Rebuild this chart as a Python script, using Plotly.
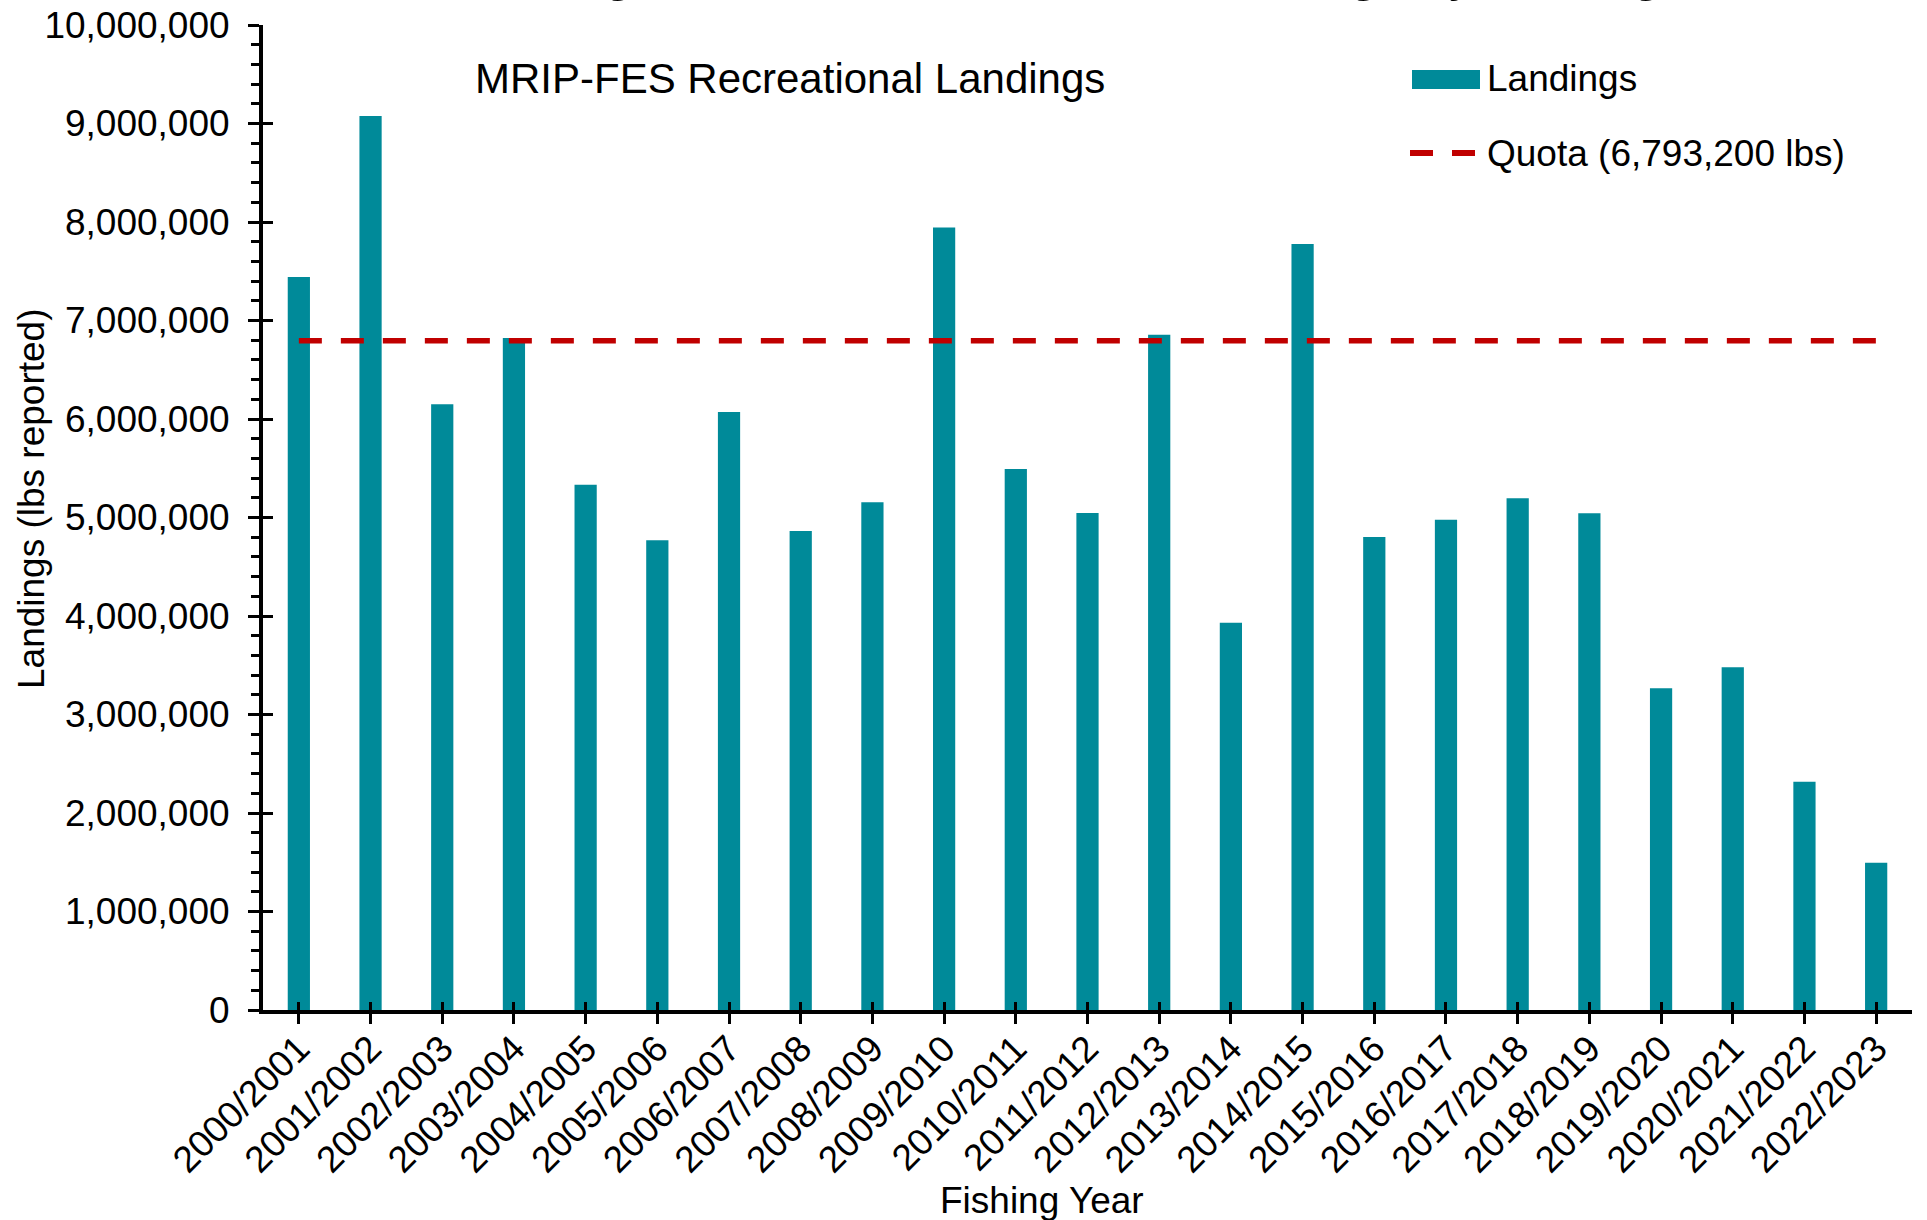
import plotly.graph_objects as go

# Fishing years and MRIP-FES recreational landings (lbs)
years = ["2000/2001", "2001/2002", "2002/2003", "2003/2004", "2004/2005", "2005/2006",
         "2006/2007", "2007/2008", "2008/2009", "2009/2010", "2010/2011", "2011/2012",
         "2012/2013", "2013/2014", "2014/2015", "2015/2016", "2016/2017", "2017/2018",
         "2018/2019", "2019/2020", "2020/2021", "2021/2022", "2022/2023"]
landings = [7442000, 9075000, 6151000, 6822000, 5333000, 4768000,
            6070000, 4863000, 5154000, 7943000, 5493000, 5046000,
            6855000, 3931000, 7777000, 4802000, 4978000, 5195000,
            5043000, 3267000, 3480000, 2318000, 1494000]
quota = 6793200

BAR_COLOR = "#008A99"
QUOTA_COLOR = "#C00000"
FONT = "Arial, Liberation Sans, sans-serif"

W, H = 1927, 1220
L, R, T, B = 263, 15, 25, 210


def px_x(p):
    return (p - L) / (W - L - R)


def px_y(p):
    return (H - B - p) / (H - T - B)


fig = go.Figure()

fig.add_trace(go.Bar(
    x=years, y=landings, name="Landings",
    marker=dict(color=BAR_COLOR, line=dict(width=0)),
    width=0.31, showlegend=False,
))

# quota line on the overlay axes so it sits above the bars
fig.add_trace(go.Scatter(
    x=[years[0], years[-1]], y=[quota, quota],
    mode="lines", name="Quota (6,793,200 lbs)",
    line=dict(color=QUOTA_COLOR, width=5.5, dash="23px,19px"),
    xaxis="x2", yaxis="y2", showlegend=False,
))

fig.update_layout(
    width=W, height=H,
    margin=dict(l=L, r=R, t=T, b=B),
    paper_bgcolor="white", plot_bgcolor="white",
    font=dict(family=FONT, size=37, color="black"),
    xaxis=dict(
        type="category", range=[-0.5, len(years) - 0.5], automargin=False,
        showline=True, linecolor="black", linewidth=4,
        ticks="outside", ticklen=10, tickwidth=3, tickcolor="black",
        tickangle=-45, tickfont=dict(size=37), ticklabelstandoff=-12,
        showgrid=False, zeroline=False,
    ),
    xaxis2=dict(
        overlaying="x", matches="x", type="category", automargin=False,
        showline=False, ticks="inside", ticklen=8, tickwidth=3, tickcolor="black",
        showticklabels=False, showgrid=False, zeroline=False,
    ),
    yaxis=dict(
        range=[0, 10000000], dtick=1000000, tickformat=",d", automargin=False,
        showline=True, linecolor="black", linewidth=4,
        ticks="outside", ticklen=11, tickwidth=3, tickcolor="black",
        minor=dict(dtick=200000, ticks="outside", ticklen=8, tickwidth=3, tickcolor="black"),
        tickfont=dict(size=37), ticklabelstandoff=11,
        showgrid=False, zeroline=False,
    ),
    yaxis2=dict(
        overlaying="y", matches="y", automargin=False,
        showline=False, ticks="inside", ticklen=10, tickwidth=3, tickcolor="black",
        dtick=1000000, showticklabels=False, showgrid=False, zeroline=False,
    ),
)

# legend drawn by hand to match the wide swatches
fig.add_shape(type="rect", xref="paper", yref="paper",
              x0=px_x(1412), x1=px_x(1480), y0=px_y(89), y1=px_y(70),
              fillcolor=BAR_COLOR, line=dict(width=0))
fig.add_shape(type="line", xref="paper", yref="paper",
              x0=px_x(1410), x1=px_x(1475), y0=px_y(153), y1=px_y(153),
              line=dict(color=QUOTA_COLOR, width=6, dash="23px,19px"))

annotations = [
    dict(text="Landings", x=px_x(1485), y=px_y(78), xanchor="left", yanchor="middle",
         font=dict(size=37)),
    dict(text="Quota (6,793,200 lbs)", x=px_x(1485), y=px_y(153), xanchor="left",
         yanchor="middle", font=dict(size=37)),
    dict(text="MRIP-FES Recreational Landings", x=px_x(790), y=px_y(78),
         xanchor="center", yanchor="middle", font=dict(size=42)),
    # chart title, mostly cropped off the top edge as in the source image
    dict(text="Gulf King Mackerel Recreational Landings by Fishing Year", x=px_x(1098),
         y=px_y(-29), xanchor="center", yanchor="middle", font=dict(size=53)),
    dict(text="Fishing Year", x=px_x(1042), y=px_y(1200), xanchor="center",
         yanchor="middle", font=dict(size=37)),
    dict(text="Landings (lbs reported)", x=px_x(31), y=px_y(499), xanchor="center",
         yanchor="middle", textangle=-90, font=dict(size=37)),
]
for a in annotations:
    fig.add_annotation(xref="paper", yref="paper", showarrow=False, **a)

# drop the default page margin so the figure sits at the window's top-left corner
fig.write_html("out.html", config={"displayModeBar": False},
               post_script="document.body.style.margin = '0';")
